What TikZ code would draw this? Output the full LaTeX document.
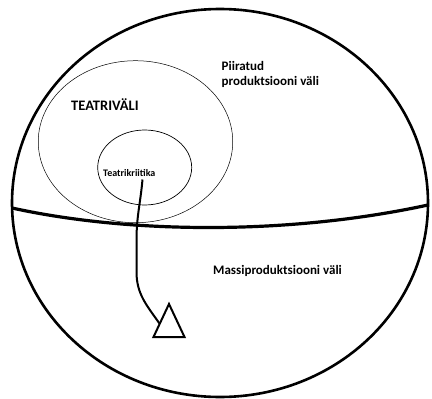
\documentclass[tikz,border=0pt]{standalone}
\usepackage{fontspec}
\setmainfont{Carlito}
\usetikzlibrary{positioning}
\usetikzlibrary{calc}
\usetikzlibrary{shapes.geometric}

\begin{document}
\begin{tikzpicture}[x=1pt,y=-1pt,
		field/.style={draw, ellipse, inner sep=0pt},
		fieldname/.style={font=\bfseries, inner sep=0pt, anchor=base west}]
			\useasboundingbox (0,0) rectangle (432,399);
			\node[draw, ellipse, line width=2.6pt, minimum width=416pt, minimum height=388pt] (world) at (220,203) {};
			\node[field, line width=0.5pt, minimum width=194.5pt, minimum height=162pt] (teater) at (135.5,141.7) {};
			\node[field, line width=0.7pt, minimum width=94pt, minimum height=75pt] (kriitika) at (144.7,167.5) {};

			\coordinate (west) at (12,208);
			\coordinate (east) at (428,205);
			\draw[line width=3.2pt] (west) .. controls (130,234) and (290,235) .. (east);

			\node[fieldname, font=\bfseries\fontsize{14.5}{17}\selectfont] (teatrivali) at (71,110.8) {TEATRIVÄLI};
			\node[fieldname, font=\bfseries\fontsize{10}{12}\selectfont] (kriitik) at (103,176.5) {Teatrikriitika};
			\node[fieldname, font=\bfseries\fontsize{13}{15.5}\selectfont, anchor=north west, align=left] (piiratud) at (221.5,61) {Piiratud\\produktsiooni väli};
			\node[fieldname, font=\bfseries\fontsize{13}{15.5}\selectfont] (massi) at (213,274) {Massiproduktsiooni väli};

			\coordinate (apex) at (169,304);
			\coordinate (bl) at (153.5,337);
			\coordinate (br) at (184.5,337);
			\draw[line width=2pt, line join=miter] (apex) -- (bl) -- (br) -- cycle;

			\draw[line width=2pt] ($(kriitik.base west)+(39.5,3)$) to[out=-95,in=90] (136.5,240) -- (136.5,272) to[out=-90,in=125] ($(apex)!0.6!(bl)$);
		\end{tikzpicture}
\end{document}
